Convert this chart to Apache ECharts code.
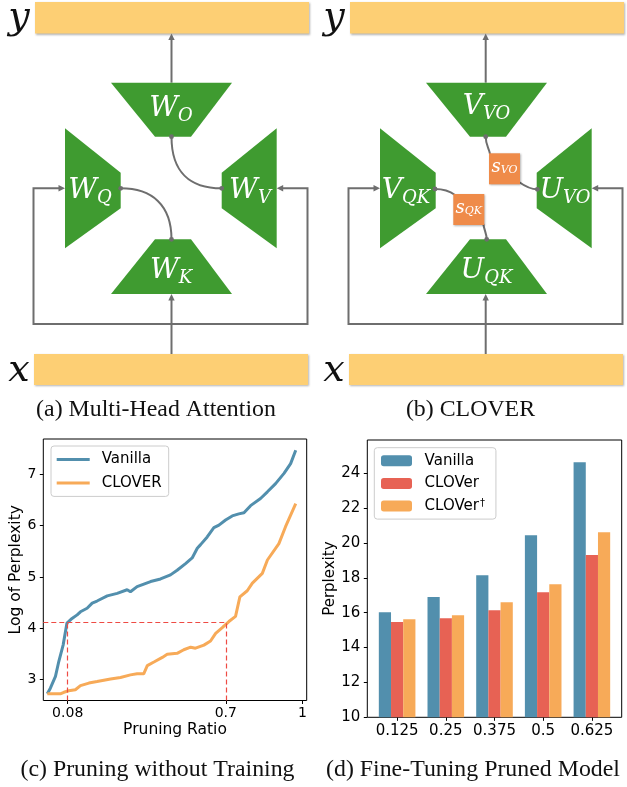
<!DOCTYPE html>
<html>
<head>
<meta charset="utf-8">
<script src="https://cdn.jsdelivr.net/npm/echarts@6/dist/echarts.min.js"></script>
<style>
  html, body { margin: 0; padding: 0; background: #fff; }
  #fig { width: 627px; height: 787px; }
</style>
</head>
<body>
<div id="fig"></div>
<script>
// ---- (c) log-perplexity vs. pruning ratio, no retraining ----
const vanillaRatio  = [0, 0.012, 0.032, 0.045, 0.062, 0.077, 0.097, 0.117, 0.13, 0.156, 0.176, 0.195, 0.235, 0.274, 0.313, 0.326, 0.352, 0.405, 0.444, 0.483, 0.509, 0.542, 0.568, 0.588, 0.601, 0.627, 0.653, 0.673, 0.699, 0.725, 0.751, 0.771, 0.797, 0.836, 0.863, 0.895, 0.928, 0.954, 0.974];
const vanillaLogPpl = [2.72, 2.83, 3.06, 3.35, 3.67, 4.10, 4.19, 4.26, 4.32, 4.39, 4.49, 4.53, 4.63, 4.68, 4.75, 4.71, 4.81, 4.91, 4.96, 5.04, 5.13, 5.26, 5.37, 5.56, 5.63, 5.78, 5.96, 6.01, 6.11, 6.19, 6.23, 6.25, 6.39, 6.53, 6.66, 6.82, 7.02, 7.21, 7.47];
const cloverRatio   = [0, 0.032, 0.051, 0.065, 0.084, 0.110, 0.130, 0.163, 0.195, 0.248, 0.287, 0.326, 0.352, 0.378, 0.392, 0.418, 0.451, 0.470, 0.509, 0.535, 0.562, 0.581, 0.614, 0.640, 0.660, 0.686, 0.712, 0.738, 0.755, 0.784, 0.804, 0.843, 0.863, 0.908, 0.934, 0.974];
const cloverLogPpl  = [2.72, 2.72, 2.72, 2.75, 2.78, 2.80, 2.88, 2.93, 2.96, 3.01, 3.04, 3.09, 3.11, 3.11, 3.27, 3.34, 3.43, 3.49, 3.51, 3.58, 3.63, 3.61, 3.67, 3.75, 3.90, 4.01, 4.13, 4.23, 4.61, 4.73, 4.88, 5.07, 5.33, 5.65, 5.98, 6.43];
const refLogPpl  = 4.11;          // same quality level reached by both methods
const refRatios  = [0.08, 0.7];   // ratio at which each method reaches it
const ratioTicks = [0.08, 0.7, 1];
const logPplTicks = [3, 4, 5, 6, 7];

// ---- (d) perplexity after fine-tuning the pruned model ----
const pruneLevels     = ['0.125', '0.25', '0.375', '0.5', '0.625'];
const pplVanilla      = [16.02, 16.90, 18.15, 20.44, 24.63];
const pplClover       = [15.47, 15.68, 16.14, 17.17, 19.31];
const pplCloverDagger = [15.62, 15.85, 16.60, 17.63, 20.61];
const pplTicks        = [10, 12, 14, 16, 18, 20, 22, 24];

const BLUE = '#528fad', RED = '#e76254', ORANGE_L = '#f7aa58';
const GREEN = '#3f9b30', SAND = '#fdcf74', BOX = '#ef8b49', WIRE = '#6e6e6e';
const SANS = 'DejaVu Sans', SERIF = 'Liberation Serif', MATH = 'DejaVu Serif';

// ---------- attention block diagrams ----------
function arrowHead(x, y, dir) {
  const L = 6.5, H = 3.2;
  let pts;
  if (dir === 'up')    pts = [[x, y], [x - H, y + L], [x + H, y + L]];
  if (dir === 'right') pts = [[x, y], [x - L, y - H], [x - L, y + H]];
  if (dir === 'left')  pts = [[x, y], [x + L, y - H], [x + L, y + H]];
  return { type: 'polygon', shape: { points: pts }, style: { fill: WIRE } };
}
function dot(x, y) {
  return { type: 'circle', shape: { cx: x, cy: y, r: 2.4 }, style: { fill: WIRE } };
}
function curve(p1, c1, c2, p2) {
  return { type: 'bezierCurve',
    shape: { x1: p1[0], y1: p1[1], cpx1: c1[0], cpy1: c1[1], cpx2: c2[0], cpy2: c2[1], x2: p2[0], y2: p2[1] },
    style: { stroke: WIRE, lineWidth: 2, fill: null } };
}
function mathLabel(x, y, main, sub, big, small, drop, color) {
  return { type: 'text', x: x, y: y, z: 10,
    style: {
      text: '{m|' + main + '}{s|' + sub + '}',
      align: 'center', verticalAlign: 'middle',
      rich: {
        m: { fontFamily: MATH, fontStyle: 'italic', fontSize: big, lineHeight: big + 2, verticalAlign: 'top', fill: color },
        s: { fontFamily: MATH, fontStyle: 'italic', fontSize: small, lineHeight: small, verticalAlign: 'top', padding: [drop, 0, 0, 0], fill: color }
      }
    } };
}

function diagram(dx, labels, cx) {
  const els = [];
  const X = v => v + dx;
  const shadow = { shadowColor: 'rgba(0,0,0,0.3)', shadowBlur: 2, shadowOffsetX: 1, shadowOffsetY: 1 };
  // input / output slabs
  els.push({ type: 'rect', shape: { x: X(35), y: 2, width: 274, height: 31.5 }, style: Object.assign({ fill: SAND }, shadow) });
  els.push({ type: 'rect', shape: { x: X(34), y: 354, width: 274, height: 31 }, style: Object.assign({ fill: SAND }, shadow) });
  els.push({ type: 'text', x: X(19), y: 18, style: { text: 'y', fontFamily: MATH, fontStyle: 'italic', fontSize: 38, fill: '#111', align: 'center', verticalAlign: 'middle' } });
  els.push({ type: 'text', x: X(19), y: 371, style: { text: 'x', fontFamily: MATH, fontStyle: 'italic', fontSize: 38, fill: '#111', align: 'center', verticalAlign: 'middle' } });
  // wiring
  els.push({ type: 'line', shape: { x1: X(cx), y1: 82.7, x2: X(cx), y2: 38 }, style: { stroke: WIRE, lineWidth: 2 } });
  els.push(arrowHead(X(cx), 33.5, 'up'));
  els.push({ type: 'polyline', shape: { points: [[X(59), 188.3], [X(33.5), 188.3], [X(33.5), 324], [X(307.5), 324], [X(307.5), 188.3], [X(282.5), 188.3]] },
    style: { stroke: WIRE, lineWidth: 2, fill: null } });
  els.push(arrowHead(X(65), 188.3, 'right'));
  els.push(arrowHead(X(276.7), 188.3, 'left'));
  els.push({ type: 'line', shape: { x1: X(cx), y1: 354, x2: X(cx), y2: 300 }, style: { stroke: WIRE, lineWidth: 2 } });
  els.push(arrowHead(X(cx), 294, 'up'));
  // projection blocks
  const shapes = [
    [[111, 82.7], [232, 82.7], [191, 136.7], [155, 136.7]],
    [[65, 128.3], [120.7, 172.7], [120.7, 208.3], [65, 248.3]],
    [[276.7, 128.3], [276.7, 248.3], [221.7, 208.3], [221.7, 172.7]],
    [[155, 239.3], [191, 239.3], [232, 294], [111, 294]]
  ];
  shapes.forEach(pts => els.push({ type: 'polygon', shape: { points: pts.map(p => [X(p[0]), p[1]]) }, style: { fill: GREEN } }));
  labels.forEach(l => els.push(mathLabel(X(l.x), l.y, l.main, l.sub, 28, 18, 12, '#fff')));
  return els;
}

const graphics = [];
// (a) multi-head attention
diagram(0, [
  { x: 171, y: 110, main: 'W', sub: 'O' },
  { x: 90,  y: 192, main: 'W', sub: 'Q' },
  { x: 250, y: 192, main: 'W', sub: 'V' },
  { x: 171, y: 272, main: 'W', sub: 'K' }
], 171.5).forEach(e => graphics.push(e));
graphics.push(curve([171.5, 136.7], [171.5, 172], [190, 188.3], [221.7, 188.3]));
graphics.push(curve([120.7, 188.3], [152, 188.3], [171.5, 205], [171.5, 239.3]));
[[171.5, 136.7], [221.7, 188.3], [120.7, 188.3], [171.5, 239.3]].forEach(p => graphics.push(dot(p[0], p[1])));

// (b) CLOVER
diagram(315, [
  { x: 171.5, y: 108, main: 'V', sub: 'VO' },
  { x: 91,    y: 192, main: 'V', sub: 'QK' },
  { x: 250,   y: 192, main: 'U', sub: 'VO' },
  { x: 171.5, y: 272, main: 'U', sub: 'QK' }
], 170.7).forEach(e => graphics.push(e));
graphics.push(curve([485.7, 136.7], [485.7, 145], [489, 148], [490, 154]));
graphics.push(curve([519, 182], [526, 187], [531, 189.3], [537.3, 189.3]));
graphics.push(curve([435, 189], [443, 189], [449, 190.5], [455, 195]));
graphics.push(curve([483.3, 224], [484.5, 231], [486.7, 234], [486.7, 239.3]));
[[485.7, 136.7], [537.3, 189.3], [435, 189], [486.7, 239.3]].forEach(p => graphics.push(dot(p[0], p[1])));
const boxShadow = { shadowColor: 'rgba(0,0,0,0.3)', shadowBlur: 2, shadowOffsetX: 1, shadowOffsetY: 1 };
graphics.push({ type: 'rect', z: 5, shape: { x: 489, y: 153.3, width: 31, height: 31 }, style: Object.assign({ fill: BOX }, boxShadow) });
graphics.push({ type: 'rect', z: 5, shape: { x: 453.3, y: 194, width: 31, height: 31 }, style: Object.assign({ fill: BOX }, boxShadow) });
graphics.push(mathLabel(504.5, 168, 's', 'VO', 18, 11, 7, '#fff'));
graphics.push(mathLabel(468.8, 209, 's', 'QK', 18, 11, 7, '#fff'));

// captions
[
  ['(a) Multi-Head Attention', 156, 410],
  ['(b) CLOVER', 470.5, 410],
  ['(c) Pruning without Training', 157.5, 770],
  ['(d) Fine-Tuning Pruned Model', 473, 770]
].forEach(c => graphics.push({ type: 'text', x: c[1], y: c[2], scaleX: 1.06,
  style: { text: c[0], fontFamily: SERIF, fontSize: 22.5, fill: '#111', align: 'center', verticalAlign: 'middle' } }));

// ---------- charts ----------
const tickStyle = { show: true, length: 3.5, lineStyle: { color: '#000', width: 1 } };
const hiddenLine = { show: false, onZero: false };
const zip = (xs, ys) => xs.map((x, i) => [x, ys[i]]);
const ratioMin = -0.0157, logMin = 2.59;
const legendText = { 'ft-vanilla': 'Vanilla', 'ft-clover': 'CLOVer', 'ft-clover-dagger': 'CLOVer{sup|†}' };

const option = {
  animation: false,
  graphic: { elements: graphics },
  grid: [
    { left: 43.3, top: 439, width: 263.4, height: 261.5, show: true, borderColor: '#000', borderWidth: 1, backgroundColor: 'transparent' },
    { left: 367.3, top: 440, width: 254.4, height: 277.3, show: true, borderColor: '#000', borderWidth: 1, backgroundColor: 'transparent' }
  ],
  xAxis: [
    { gridIndex: 0, type: 'value', min: ratioMin, max: 1.017,
      axisLine: hiddenLine, splitLine: { show: false },
      axisTick: Object.assign({ customValues: ratioTicks }, tickStyle),
      axisLabel: { customValues: ratioTicks, color: '#000', fontFamily: SANS, fontSize: 14, margin: 6 },
      name: 'Pruning Ratio', nameLocation: 'middle', nameGap: 21,
      nameTextStyle: { color: '#000', fontFamily: SANS, fontSize: 15.5 } },
    { gridIndex: 1, type: 'value', min: -0.6125, max: 4.6125,
      axisLine: hiddenLine, splitLine: { show: false },
      axisTick: Object.assign({ customValues: [0, 1, 2, 3, 4] }, tickStyle),
      axisLabel: { customValues: [0, 1, 2, 3, 4], formatter: v => pruneLevels[Math.round(v)], color: '#000', fontFamily: SANS, fontSize: 15, margin: 6 } }
  ],
  yAxis: [
    { gridIndex: 0, type: 'value', min: logMin, max: 7.69,
      axisLine: hiddenLine, splitLine: { show: false },
      axisTick: Object.assign({ customValues: logPplTicks }, tickStyle),
      axisLabel: { customValues: logPplTicks, color: '#000', fontFamily: SANS, fontSize: 14, margin: 7 },
      name: 'Log of Perplexity', nameLocation: 'middle', nameGap: 19,
      nameTextStyle: { color: '#000', fontFamily: SANS, fontSize: 15.5 } },
    { gridIndex: 1, type: 'value', min: 10, max: 25.9,
      axisLine: hiddenLine, splitLine: { show: false },
      axisTick: Object.assign({ customValues: pplTicks }, tickStyle),
      axisLabel: { customValues: pplTicks, color: '#000', fontFamily: SANS, fontSize: 15, margin: 7 },
      name: 'Perplexity', nameLocation: 'middle', nameGap: 28,
      nameTextStyle: { color: '#000', fontFamily: SANS, fontSize: 15 } }
  ],
  legend: [
    { data: [{ name: 'Vanilla', icon: 'rect' }, { name: 'CLOVER', icon: 'rect' }], orient: 'vertical', left: 51, top: 446,
      padding: [6, 7, 6, 5.7], itemWidth: 33, itemHeight: 3, itemGap: 8.4,
      backgroundColor: 'rgba(255,255,255,0.8)', borderColor: '#cccccc', borderWidth: 1, borderRadius: 3,
      textStyle: { color: '#000', fontFamily: SANS, fontSize: 15, lineHeight: 15, padding: [0, 0, 0, 7] } },
    { data: ['ft-vanilla', 'ft-clover', 'ft-clover-dagger'], orient: 'vertical', left: 374.3, top: 447.7,
      padding: [5.5, 11, 5.5, 6.7], itemWidth: 31, itemHeight: 11, itemGap: 7.7,
      backgroundColor: 'rgba(255,255,255,0.8)', borderColor: '#cccccc', borderWidth: 1, borderRadius: 3,
      formatter: n => legendText[n],
      textStyle: { color: '#000', fontFamily: SANS, fontSize: 15, lineHeight: 15, padding: [0, 0, 0, 7.6],
        rich: { sup: { fontFamily: SANS, fontSize: 10, lineHeight: 15, verticalAlign: 'top', padding: [0, 0, 0, 1] } } } }
  ],
  series: [
    { name: 'reference', type: 'line', xAxisIndex: 0, yAxisIndex: 0, data: [], z: 1,
      markLine: { silent: true, symbol: 'none', label: { show: false },
        lineStyle: { type: [5, 3], color: '#ee4b44', width: 1.2 },
        data: [
          [{ coord: [ratioMin, refLogPpl] }, { coord: [refRatios[1], refLogPpl] }],
          [{ coord: [refRatios[0], logMin] }, { coord: [refRatios[0], refLogPpl] }],
          [{ coord: [refRatios[1], logMin] }, { coord: [refRatios[1], refLogPpl] }]
        ] } },
    { name: 'Vanilla', type: 'line', xAxisIndex: 0, yAxisIndex: 0, z: 3, symbol: 'none',
      data: zip(vanillaRatio, vanillaLogPpl), lineStyle: { color: BLUE, width: 3 }, itemStyle: { color: BLUE } },
    { name: 'CLOVER', type: 'line', xAxisIndex: 0, yAxisIndex: 0, z: 3, symbol: 'none',
      data: zip(cloverRatio, cloverLogPpl), lineStyle: { color: ORANGE_L, width: 3 }, itemStyle: { color: ORANGE_L } },
    { name: 'ft-vanilla', type: 'bar', xAxisIndex: 1, yAxisIndex: 1, barWidth: 12.2, barGap: '0%',
      data: pplVanilla.map((v, i) => [i, v]), itemStyle: { color: BLUE } },
    { name: 'ft-clover', type: 'bar', xAxisIndex: 1, yAxisIndex: 1, barWidth: 12.2, barGap: '0%',
      data: pplClover.map((v, i) => [i, v]), itemStyle: { color: RED } },
    { name: 'ft-clover-dagger', type: 'bar', xAxisIndex: 1, yAxisIndex: 1, barWidth: 12.2, barGap: '0%',
      data: pplCloverDagger.map((v, i) => [i, v]), itemStyle: { color: ORANGE_L } }
  ]
};

const chart = echarts.init(document.getElementById('fig'), null, { renderer: 'canvas' });
chart.setOption(option);
</script>
</body>
</html>
